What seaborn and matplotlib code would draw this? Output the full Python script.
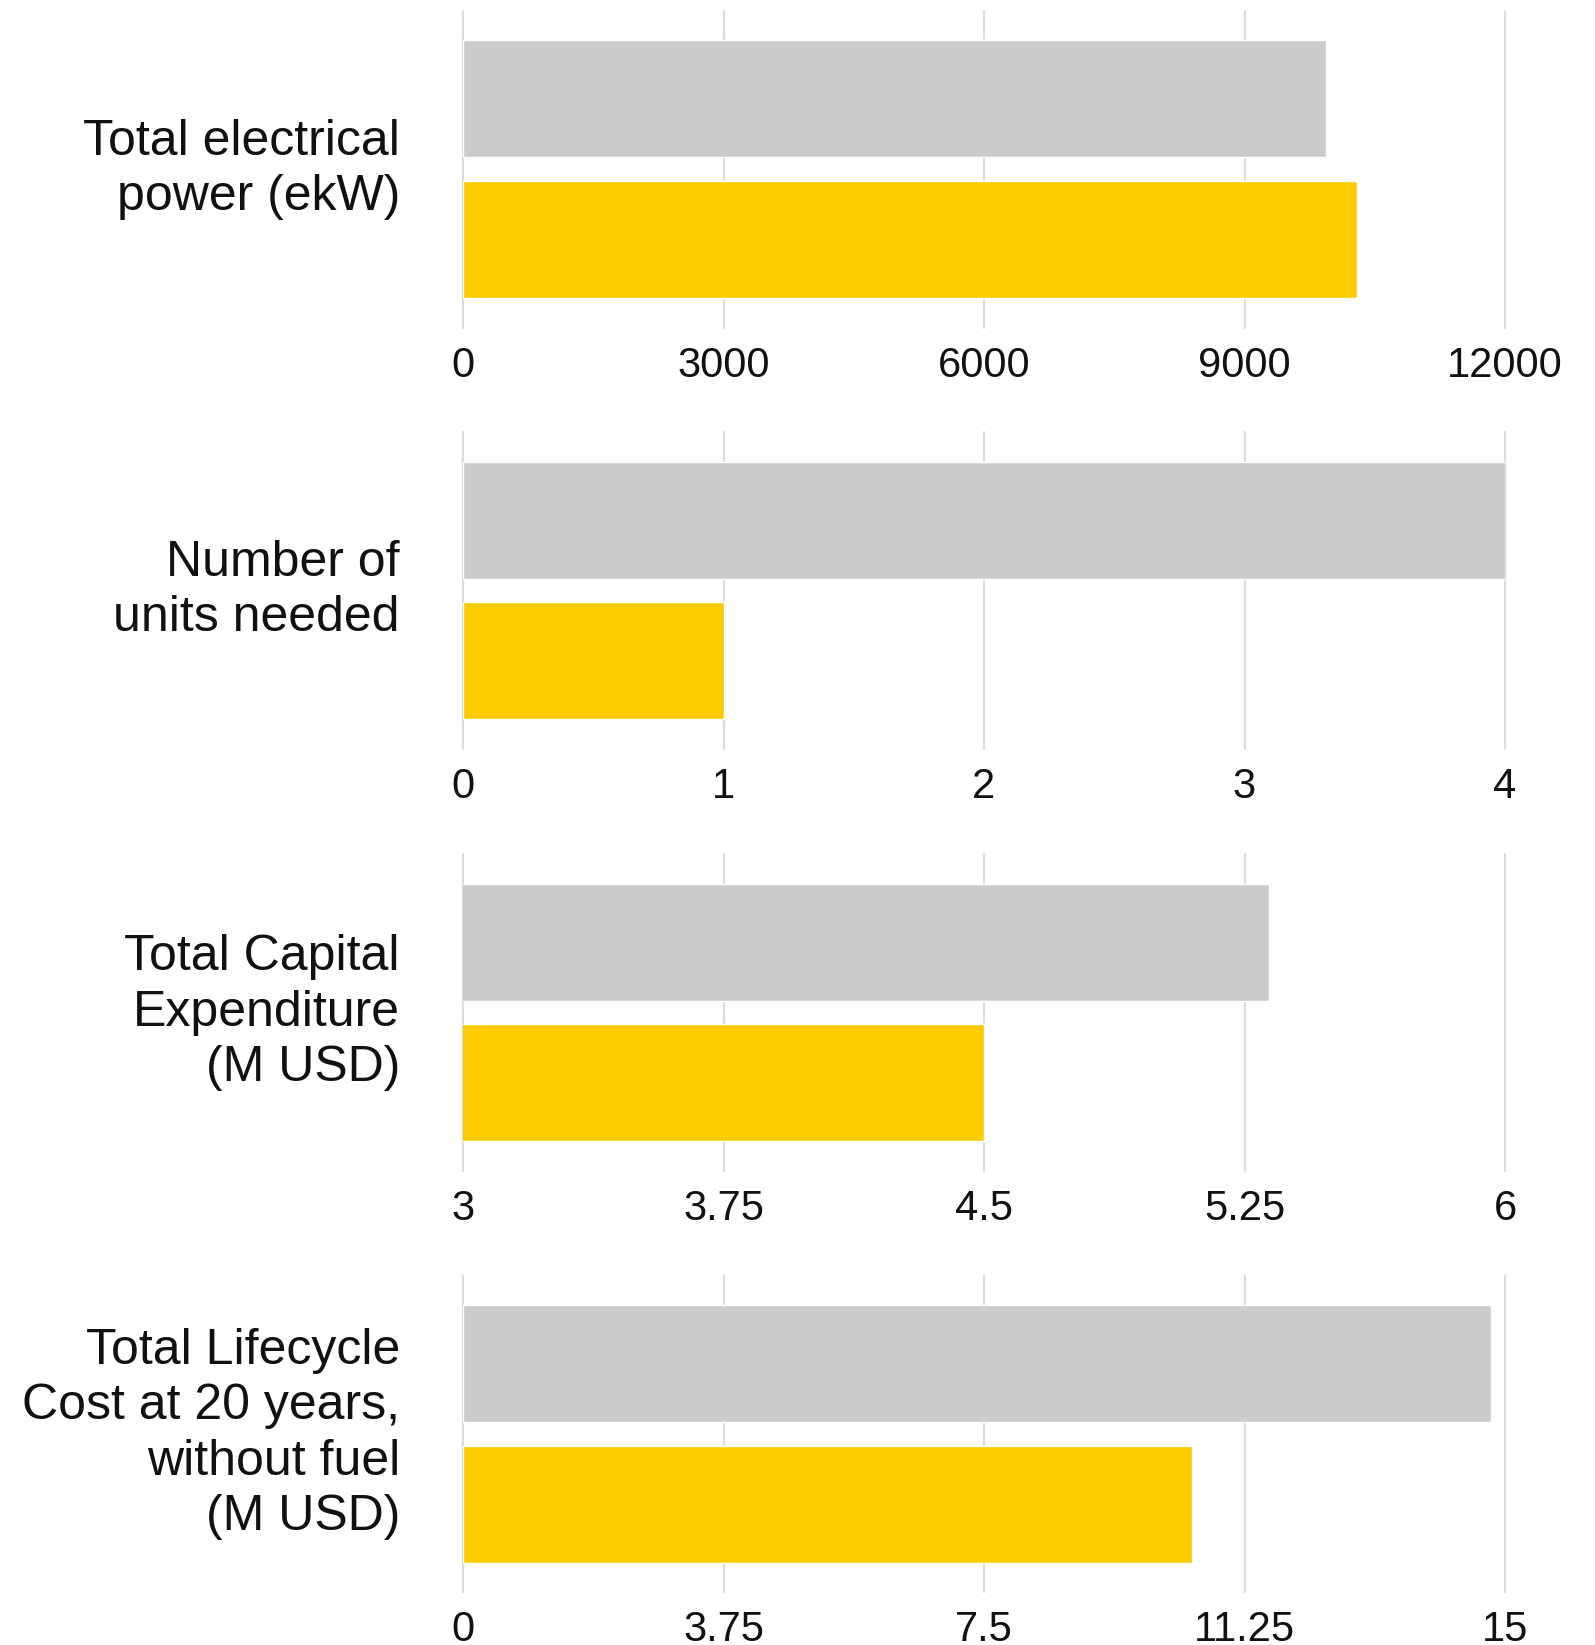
import numpy as np
import pandas as pd
import matplotlib
matplotlib.use("Agg")
import matplotlib.pyplot as plt
import seaborn as sns

# Chart data
metrics = [
    "Total electrical\npower (ekW)",
    "Number of\nunits needed",
    "Total Capital\nExpenditure\n(M USD)",
    "Total Lifecycle\nCost at 20 years,\nwithout fuel\n(M USD)",
]
options = ["Current", "Proposed"]
current_values = [9940, 4, 5.32, 14.8]
proposed_values = [10300, 1, 4.5, 10.5]

x_ticks = [
    [0, 3000, 6000, 9000, 12000],
    [0, 1, 2, 3, 4],
    [3, 3.75, 4.5, 5.25, 6],
    [0, 3.75, 7.5, 11.25, 15],
]
x_tick_labels = [
    ["0", "3000", "6000", "9000", "12000"],
    ["0", "1", "2", "3", "4"],
    ["3", "3.75", "4.5", "5.25", "6"],
    ["0", "3.75", "7.5", "11.25", "15"],
]

gray = "#CBCBCE"
yellow = "#FDCB00"
grid_color = "#DCDCDC"

sns.set_theme(style="white")
plt.rcParams['font.family'] = ['Liberation Sans Narrow', 'Liberation Sans', 'DejaVu Sans']

W, H = 1595, 1645
fig = plt.figure(figsize=(W / 100, H / 100), dpi=100)

left = 463 / W
width = (1505 - 463) / W
panels_px = [(10.5, 328), (432, 749), (854, 1171), (1276, 1592)]

for i, (top, bottom) in enumerate(panels_px):
    ax = fig.add_axes([left, 1 - bottom / H, width, (bottom - top) / H])
    df = pd.DataFrame({
        "option": options,
        "value": [current_values[i], proposed_values[i]],
    })
    sns.barplot(data=df, x="value", y="option", hue="option",
                palette=[gray, yellow], width=0.83, legend=False,
                saturation=1, ax=ax, zorder=2)

    ax.set_xlim(x_ticks[i][0], x_ticks[i][-1])
    ax.set_ylim(1.625, -0.625)
    ax.set_xticks(x_ticks[i])
    ax.set_xticklabels(x_tick_labels[i])
    ax.set_yticks([])
    ax.set_xlabel("")
    ax.set_ylabel("")
    for s in ax.spines.values():
        s.set_visible(False)
    ax.grid(False)
    for t in x_ticks[i]:
        ax.axvline(t, color=grid_color, lw=1.6, zorder=1, clip_on=False)
    ax.tick_params(axis="x", length=0, pad=13, labelsize=30, labelcolor="#111111")

    ax.text(-0.0605, 0.5, metrics[i], transform=ax.transAxes,
            ha="right", va="center", multialignment="right",
            fontsize=36, color="#111111", linespacing=1.26)

fig.savefig("out.png", dpi=100)
